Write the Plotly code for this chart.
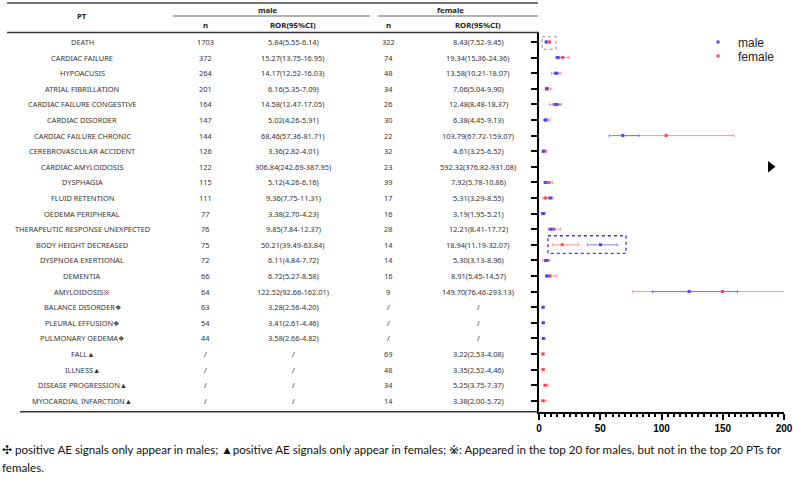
import plotly.graph_objects as go

# ---------------- data ----------------
pts = ["DEATH", "CARDIAC FAILURE", "HYPOACUSIS", "ATRIAL FIBRILLATION",
       "CARDIAC FAILURE CONGESTIVE", "CARDIAC DISORDER", "CARDIAC FAILURE CHRONIC",
       "CEREBROVASCULAR ACCIDENT", "CARDIAC AMYLOIDOSIS", "DYSPHAGIA", "FLUID RETENTION",
       "OEDEMA PERIPHERAL", "THERAPEUTIC RESPONSE UNEXPECTED", "BODY HEIGHT DECREASED",
       "DYSPNOEA EXERTIONAL", "DEMENTIA", "AMYLOIDOSIS※", "BALANCE DISORDER❖",
       "PLEURAL EFFUSION❖", "PULMONARY OEDEMA❖", "FALL▲", "ILLNESS▲",
       "DISEASE PROGRESSION▲", "MYOCARDIAL INFARCTION▲"]

male_n = [1703, 372, 264, 201, 164, 147, 144, 126, 122, 115, 111, 77, 76, 75, 72, 66, 64,
          63, 54, 44, None, None, None, None]
male_ror = [5.84, 15.27, 14.17, 6.16, 14.58, 5.02, 68.46, 3.36, 306.84, 5.12, 9.36, 3.38,
            9.85, 50.21, 6.11, 6.72, 122.52, 3.28, 3.41, 3.58, None, None, None, None]
male_lo = [5.55, 13.75, 12.52, 5.35, 12.47, 4.26, 57.36, 2.82, 242.69, 4.26, 7.75, 2.70,
           7.84, 39.49, 4.84, 5.27, 92.66, 2.56, 2.61, 2.66, None, None, None, None]
male_hi = [6.14, 16.95, 16.03, 7.09, 17.05, 5.91, 81.71, 4.01, 387.95, 6.16, 11.31, 4.23,
           12.37, 63.84, 7.72, 8.58, 162.01, 4.20, 4.46, 4.82, None, None, None, None]

female_n = [322, 74, 48, 34, 26, 30, 22, 32, 23, 39, 17, 16, 28, 14, 14, 16, 9,
            None, None, None, 69, 48, 34, 14]
female_ror = [8.43, 19.34, 13.58, 7.06, 12.48, 6.38, 103.79, 4.61, 592.32, 7.92, 5.31, 3.19,
              12.21, 18.94, 5.30, 8.91, 149.70, None, None, None, 3.22, 3.35, 5.25, 3.38]
female_lo = [7.52, 15.36, 10.21, 5.04, 8.48, 4.45, 67.72, 3.25, 376.82, 5.78, 3.29, 1.95,
             8.41, 11.19, 3.13, 5.45, 76.46, None, None, None, 2.53, 2.52, 3.75, 2.00]
female_hi = [9.45, 24.36, 18.07, 9.90, 18.37, 9.13, 159.07, 6.52, 931.08, 10.86, 8.55, 5.21,
             17.72, 32.07, 8.96, 14.57, 293.13, None, None, None, 4.08, 4.46, 7.37, 5.72]

x_ticks = [0, 50, 100, 150, 200]

footer1 = ("✣ positive AE signals only appear in males; ▲positive AE signals only appear in "
           "females; ※: Appeared in the top 20 for males, but not in the top 20 PTs for")
footer2 = "females."

# ---------------- geometry helpers ----------------
W, H = 793, 481
def px(x):
    return x / W
def py(y):
    return 1 - y / H

row0_px, row_step = 42.0, 15.6
ax_top_px, ax_bot_px = 32.0, 411.7
ax_left_px, ax_right_px = 539.0, 784.0
y_top = (ax_top_px - row0_px) / row_step
y_bot = (ax_bot_px - row0_px) / row_step
XMAX = x_ticks[-1]

rows = list(range(len(pts)))

MALE_C = "rgb(70,70,255)"
MALE_E = "rgba(100,100,255,0.8)"
FEM_C = "rgb(255,70,70)"
FEM_E = "rgba(255,120,120,0.8)"

def ci_arrays(ror, lo, hi):
    plus = [None if r is None else h - r for r, h in zip(ror, hi)]
    minus = [None if r is None else r - l for r, l in zip(ror, lo)]
    return plus, minus

fig = go.Figure()

fp, fm = ci_arrays(female_ror, female_lo, female_hi)
fig.add_trace(go.Scatter(
    x=female_ror, y=rows, mode="markers", name="female",
    marker=dict(symbol="square", size=3, color=FEM_C),
    error_x=dict(type="data", array=fp, arrayminus=fm, color=FEM_E, thickness=1, width=1.5),
    legend="legend2"))

mp, mm = ci_arrays(male_ror, male_lo, male_hi)
fig.add_trace(go.Scatter(
    x=male_ror, y=rows, mode="markers", name="male",
    marker=dict(symbol="square", size=3, color=MALE_C),
    error_x=dict(type="data", array=mp, arrayminus=mm, color=MALE_E, thickness=1, width=1.5),
    legend="legend"))

# off-scale indicator
off_rows = [i for i in rows if (male_ror[i] or 0) > XMAX and (female_ror[i] or 0) > XMAX]
fig.add_trace(go.Scatter(
    x=[XMAX * 0.945] * len(off_rows), y=off_rows, mode="markers", showlegend=False,
    marker=dict(symbol="triangle-right", size=10, color="black"), hoverinfo="skip"))

# ---------------- table text ----------------
FONT = "Noto Sans"
TXT = "#333333"
col_pt, col_mn, col_mr, col_fn, col_fr = 82, 205, 293, 388, 478

def fmt_n(v):
    return "/" if v is None else str(v)

def fmt_ror(r, l, h):
    return "/" if r is None else f"{r:.2f}({l:.2f}-{h:.2f})"

ann = []
for i in rows:
    for cx, txt in [(col_pt, pts[i]),
                    (col_mn, fmt_n(male_n[i])),
                    (col_mr, fmt_ror(male_ror[i], male_lo[i], male_hi[i])),
                    (col_fn, fmt_n(female_n[i])),
                    (col_fr, fmt_ror(female_ror[i], female_lo[i], female_hi[i]))]:
        ann.append(dict(x=px(cx), y=i, xref="paper", yref="y", text=txt, showarrow=False,
                        xanchor="center", yanchor="middle",
                        font=dict(family=FONT, size=7.4, color=TXT)))

hdr_font = dict(family=FONT, size=7.8, color="#222222", weight="bold")
for cx, cy, txt in [(col_pt, 16, "PT"), (268, 9.5, "male"), (450, 9.5, "female"),
                    (col_mn, 25, "n"), (col_mr, 25, "ROR(95%CI)"),
                    (col_fn, 25, "n"), (col_fr, 25, "ROR(95%CI)")]:
    ann.append(dict(x=px(cx), y=py(cy), xref="paper", yref="paper", text=txt,
                    showarrow=False, xanchor="center", yanchor="middle", font=hdr_font))

foot_font = dict(family="Lato", size=11.6, color="#111111")
ann.append(dict(x=0, y=py(449), xref="paper", yref="paper", text=footer1, showarrow=False,
                xanchor="left", yanchor="middle", font=foot_font))
ann.append(dict(x=0, y=py(467), xref="paper", yref="paper", text=footer2, showarrow=False,
                xanchor="left", yanchor="middle", font=foot_font))

# ---------------- table lines ----------------
shapes = []
def hline(x0, x1, y, color, w):
    shapes.append(dict(type="line", xref="paper", yref="paper", x0=px(x0), x1=px(x1),
                       y0=py(y), y1=py(y), line=dict(color=color, width=w)))

hline(7, 538, 3, "#444444", 1.5)
hline(173, 370, 16, "#999999", 1.5)
hline(378, 538, 16, "#999999", 1.5)
hline(7, 539, 32.5, "#333333", 1.5)
hline(20, 539, 411.7, "#333333", 1.5)

# highlight boxes derived from the data rows
def box_around(i, padl, padr, pady0, pady1, color):
    vals_lo = [v for v in (male_lo[i], female_lo[i]) if v is not None]
    vals_hi = [v for v in (male_hi[i], female_hi[i]) if v is not None]
    shapes.append(dict(type="rect", xref="x", yref="y",
                       x0=min(vals_lo) - padl, x1=max(vals_hi) + padr,
                       y0=i - pady0, y1=i + pady1,
                       line=dict(color=color, width=1.3, dash="dot")))

box_around(pts.index("DEATH"), 3.0, 4.5, 0.34, 0.47, "#aaaaaa")
box_around(pts.index("BODY HEIGHT DECREASED"), 3.9, 7.2, 0.58, 0.55, "#3333ee")

fig.update_layout(
    width=W, height=H,
    margin=dict(l=0, r=0, t=0, b=0, autoexpand=False),
    paper_bgcolor="white", plot_bgcolor="white",
    annotations=ann, shapes=shapes,
    xaxis=dict(domain=[px(ax_left_px), px(ax_right_px)], range=[0, XMAX],
               tickvals=x_ticks, ticktext=[str(v) for v in x_ticks],
               showline=True, linecolor="black", linewidth=2,
               ticks="outside", ticklen=6, tickwidth=2, tickcolor="black",
               minor=dict(dtick=5, ticks="outside", ticklen=3, tickwidth=1.5, tickcolor="black"),
               showgrid=False, zeroline=False,
               tickfont=dict(family="Liberation Sans", size=10, color="black", weight="bold")),
    yaxis=dict(domain=[py(ax_bot_px), py(ax_top_px)], range=[y_bot, y_top],
               tickvals=rows, showticklabels=False,
               showline=True, linecolor="black", linewidth=2,
               ticks="outside", ticklen=6, tickwidth=2, tickcolor="black",
               showgrid=False, zeroline=False),
    legend=dict(x=px(698), y=py(42), xanchor="left", yanchor="middle",
                font=dict(family="Liberation Sans", size=12, color="#222222"),
                bgcolor="rgba(0,0,0,0)"),
    legend2=dict(x=px(698), y=py(56), xanchor="left", yanchor="middle",
                 font=dict(family="Liberation Sans", size=12, color="#222222"),
                 bgcolor="rgba(0,0,0,0)"),
)

fig.write_html("out.html", config={"displayModeBar": False},
               post_script="document.body.style.margin='0';document.body.style.overflow='hidden';")
